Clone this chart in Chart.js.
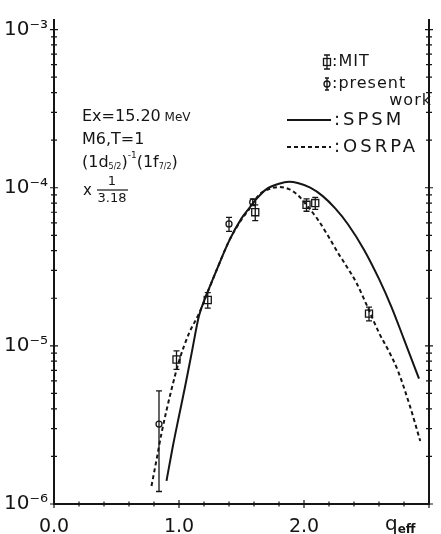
<!DOCTYPE html>
<html>
<head>
<meta charset="utf-8">
<script src="https://cdn.jsdelivr.net/npm/chart.js@4.4.1/dist/chart.umd.min.js"></script>
<style>
  html, body { margin: 0; padding: 0; background: #fff; }
  #wrap { width: 441px; height: 534px; position: relative; }
</style>
</head>
<body>
<div id="wrap"><canvas id="c" width="441" height="534"></canvas></div>
<script>
// Form factor curves (q_eff vs |F|^2), theory
const qSPSM = [0.90, 0.95, 1.00, 1.05, 1.10, 1.16, 1.22, 1.30, 1.40, 1.50, 1.56, 1.62, 1.70, 1.80, 1.88, 1.95, 2.05, 2.15, 2.25, 2.35, 2.48, 2.60, 2.70, 2.80, 2.92];
const sigmaSPSM = [1.4e-6, 2.3e-6, 3.6e-6, 5.6e-6, 8.9e-6, 1.55e-5, 2.1e-5, 3.0e-5, 4.6e-5, 6.4e-5, 7.4e-5, 8.5e-5, 9.8e-5, 1.06e-4, 1.09e-4, 1.07e-4, 1.0e-4, 8.85e-5, 7.4e-5, 5.9e-5, 4.06e-5, 2.65e-5, 1.76e-5, 1.1e-5, 6.2e-6];

const qOSRPA = [0.78, 0.82, 0.86, 0.94, 1.00, 1.08, 1.16, 1.22, 1.30, 1.40, 1.50, 1.56, 1.64, 1.72, 1.80, 1.88, 1.95, 2.03, 2.11, 2.19, 2.27, 2.35, 2.42, 2.51, 2.60, 2.68, 2.75, 2.85, 2.93];
const sigmaOSRPA = [1.3e-6, 1.9e-6, 2.8e-6, 5.3e-6, 8.0e-6, 1.2e-5, 1.6e-5, 2.1e-5, 3.0e-5, 4.6e-5, 6.3e-5, 7.3e-5, 9.0e-5, 9.8e-5, 1.01e-4, 9.8e-5, 9.0e-5, 7.6e-5, 6.3e-5, 5.0e-5, 3.9e-5, 3.1e-5, 2.5e-5, 1.75e-5, 1.21e-5, 9.2e-6, 7.0e-6, 4.1e-6, 2.5e-6];

// Measured points
const qMIT = [0.98, 1.23, 1.61, 2.02, 2.09, 2.52];
const sigmaMIT = [8.2e-6, 1.95e-5, 7.0e-5, 7.8e-5, 8.0e-5, 1.6e-5];
const errMIT = [1.1e-6, 2.2e-6, 8.0e-6, 7.0e-6, 7.0e-6, 1.6e-6];

const qPresent = [0.84, 1.40, 1.59];
const sigmaPresent = [3.2e-6, 5.9e-5, 8.1e-5];
const errPresent = [2.0e-6, 6.0e-6, 4.0e-6];

// Axis tick labels
const xTickValues = [0, 1, 2];
const xTickLabels = ['0.0', '1.0', '2.0'];
const yTickExponents = [-6, -5, -4, -3];
const yTickLabels = ['10⁻⁶', '10⁻⁵', '10⁻⁴', '10⁻³'];

const INK = '#151515';
const FONT = "'DejaVu Sans', sans-serif";
const pts = (xs, ys) => xs.map((x, i) => ({ x, y: ys[i] }));

// Vertical error bars with caps, drawn through the markers
const errorBars = {
  id: 'errorBars',
  afterDatasetsDraw(chart) {
    const { ctx, scales: { x, y } } = chart;
    chart.data.datasets.forEach((ds) => {
      if (!ds.errors) return;
      ctx.save();
      ctx.strokeStyle = INK;
      ctx.lineWidth = 1.3;
      ds.data.forEach((p, i) => {
        const px = x.getPixelForValue(p.x);
        const top = y.getPixelForValue(p.y + ds.errors[i]);
        const bot = y.getPixelForValue(p.y - ds.errors[i]);
        ctx.beginPath();
        ctx.moveTo(px, top); ctx.lineTo(px, bot);
        ctx.moveTo(px - 3, top); ctx.lineTo(px + 3, top);
        ctx.moveTo(px - 3, bot); ctx.lineTo(px + 3, bot);
        ctx.stroke();
      });
      ctx.restore();
    });
  }
};

// Tick marks crossing the axis lines
const crossTicks = {
  id: 'crossTicks',
  afterDraw(chart) {
    const { ctx, chartArea: a, scales: { x, y } } = chart;
    ctx.save();
    ctx.strokeStyle = INK;
    ctx.lineWidth = 1.2;
    y.ticks.forEach((t) => {
      const m = t.value / Math.pow(10, Math.floor(Math.log10(t.value) + 1e-9));
      if (Math.abs(m - Math.round(m)) > 1e-6) return;
      const py = y.getPixelForValue(t.value);
      const len = Math.abs(m - 1) < 1e-6 ? 4 : 3;
      ctx.beginPath();
      ctx.moveTo(a.left - len, py); ctx.lineTo(a.left + len, py);
      ctx.moveTo(a.right - len, py); ctx.lineTo(a.right + len, py);
      ctx.stroke();
    });
    x.ticks.forEach((t) => {
      const px = x.getPixelForValue(t.value);
      const major = Math.abs(t.value - Math.round(t.value)) < 1e-6;
      const len = major ? 4 : 2.5;
      ctx.beginPath();
      ctx.moveTo(px, a.bottom - len); ctx.lineTo(px, a.bottom + len);
      ctx.stroke();
    });
    ctx.restore();
  }
};

function drawRuns(ctx, x, y, runs) {
  let cx = x;
  runs.forEach((r) => {
    ctx.font = (r.weight || '') + ' ' + r.size + 'px ' + FONT;
    ctx.fillText(r.t, cx, y + (r.dy || 0));
    cx += ctx.measureText(r.t).width + (r.gap || 0);
  });
  return cx;
}

// Legend and level description
const annotations = {
  id: 'annotations',
  afterDraw(chart) {
    const { ctx } = chart;
    const sets = chart.data.datasets;
    ctx.save();
    ctx.fillStyle = INK;
    ctx.strokeStyle = INK;
    ctx.textBaseline = 'middle';
    ctx.textAlign = 'left';

    // level description block
    drawRuns(ctx, 82, 117, [{ t: 'Ex=15.20', size: 16 }, { t: ' MeV', size: 12, dy: 1 }]);
    drawRuns(ctx, 82, 140, [{ t: 'M6,T=1', size: 16 }]);
    drawRuns(ctx, 82, 163, [
      { t: '(1d', size: 16 }, { t: '5/2', size: 8, dy: 4 }, { t: ')', size: 16 },
      { t: '-1', size: 9, dy: -7 }, { t: '(1f', size: 16 }, { t: '7/2', size: 8, dy: 4 }, { t: ')', size: 16 }
    ]);
    ctx.font = '15px ' + FONT;
    ctx.fillText('x', 83, 191);
    ctx.font = '13px ' + FONT;
    ctx.textAlign = 'center';
    ctx.fillText('1', 112, 182);
    ctx.fillText('3.18', 112, 199);
    ctx.lineWidth = 1.2;
    ctx.beginPath(); ctx.moveTo(97, 190); ctx.lineTo(128, 190); ctx.stroke();
    ctx.textAlign = 'left';

    // legend: markers
    const mit = sets[2], pres = sets[3];
    ctx.lineWidth = 1.3;
    // MIT symbol
    ctx.fillStyle = '#fff';
    ctx.fillRect(323.5, 58.5, 7, 7); ctx.strokeRect(323.5, 58.5, 7, 7);
    ctx.beginPath();
    ctx.moveTo(327, 55); ctx.lineTo(327, 69);
    ctx.moveTo(324, 55); ctx.lineTo(330, 55);
    ctx.moveTo(324, 69); ctx.lineTo(330, 69);
    ctx.stroke();
    // present-work symbol
    ctx.beginPath(); ctx.arc(327, 84, 3, 0, Math.PI * 2); ctx.fill(); ctx.stroke();
    ctx.beginPath();
    ctx.moveTo(327, 78); ctx.lineTo(327, 90);
    ctx.moveTo(325, 78); ctx.lineTo(329, 78);
    ctx.moveTo(325, 90); ctx.lineTo(329, 90);
    ctx.stroke();
    ctx.fillStyle = INK;

    ctx.font = '16px ' + FONT;
    ctx.letterSpacing = '1px';
    ctx.fillText(':' + mit.label, 332, 62);
    ctx.fillText(':' + pres.label, 332, 84);
    ctx.textAlign = 'right';
    ctx.fillText('work', 432, 101);
    ctx.textAlign = 'left';

    // legend: curves
    const lineSample = (ds, yy) => {
      ctx.save();
      ctx.lineWidth = ds.borderWidth;
      ctx.setLineDash(ds.borderDash || []);
      ctx.beginPath(); ctx.moveTo(287, yy); ctx.lineTo(331, yy); ctx.stroke();
      ctx.restore();
    };
    lineSample(sets[0], 120);
    lineSample(sets[1], 147);
    ctx.font = '18px ' + FONT;
    ctx.letterSpacing = '3px';
    ctx.fillText(':' + sets[0].label, 334, 120);
    ctx.fillText(':' + sets[1].label, 334, 147);
    ctx.letterSpacing = '0px';

    // x-axis variable name
    drawRuns(ctx, 385, 525, [{ t: 'q', size: 20 }, { t: 'eff', size: 12, weight: 'bold', dy: 5 }]);
    ctx.restore();
  }
};

const xTickText = (v) => {
  const i = xTickValues.findIndex((t) => Math.abs(t - v) < 1e-6);
  return i >= 0 ? xTickLabels[i] : '';
};
const yTickText = (v) => {
  const e = Math.log10(v);
  const i = yTickExponents.findIndex((t) => Math.abs(t - e) < 1e-6);
  return i >= 0 ? yTickLabels[i] : '';
};

new Chart(document.getElementById('c'), {
  type: 'scatter',
  data: {
    datasets: [
      { label: 'SPSM', data: pts(qSPSM, sigmaSPSM), showLine: true, borderColor: INK, borderWidth: 2,
        pointRadius: 0, cubicInterpolationMode: 'monotone', fill: false },
      { label: 'OSRPA', data: pts(qOSRPA, sigmaOSRPA), showLine: true, borderColor: INK, borderWidth: 2,
        borderDash: [4, 3], pointRadius: 0, cubicInterpolationMode: 'monotone', fill: false },
      { label: 'MIT', data: pts(qMIT, sigmaMIT), errors: errMIT, pointStyle: 'rect', pointRadius: 5,
        backgroundColor: '#fff', borderColor: INK, borderWidth: 1.3 },
      { label: 'present', data: pts(qPresent, sigmaPresent), errors: errPresent, pointStyle: 'circle',
        pointRadius: 3, backgroundColor: '#fff', borderColor: INK, borderWidth: 1.3 }
    ]
  },
  options: {
    responsive: false,
    animation: false,
    devicePixelRatio: 1,
    layout: { padding: { top: 20, right: 6, left: 0, bottom: 0 } },
    plugins: { legend: { display: false }, tooltip: { enabled: false } },
    scales: {
      x: {
        type: 'linear', position: 'bottom', min: 0, max: 3,
        grid: { display: false, drawTicks: false },
        border: { display: true, color: INK, width: 2 },
        ticks: { stepSize: 0.2, autoSkip: false, maxRotation: 0, padding: 12, color: INK,
          font: { size: 19, family: FONT }, callback: xTickText },
        afterFit: (s) => { s.height = 30; }
      },
      y: {
        type: 'logarithmic', position: 'left', min: 1e-6, max: 1.15e-3,
        grid: { display: false, drawTicks: false },
        border: { display: true, color: INK, width: 2 },
        ticks: { autoSkip: false, padding: 6, color: INK, font: { size: 20, family: FONT }, callback: yTickText },
        afterFit: (s) => { s.width = 54; }
      },
      yr: {
        type: 'logarithmic', position: 'right', min: 1e-6, max: 1.15e-3,
        grid: { display: false, drawTicks: false },
        border: { display: true, color: INK, width: 2 },
        ticks: { display: false },
        afterFit: (s) => { s.width = 0; }
      }
    }
  },
  plugins: [errorBars, crossTicks, annotations]
});
</script>
</body>
</html>
